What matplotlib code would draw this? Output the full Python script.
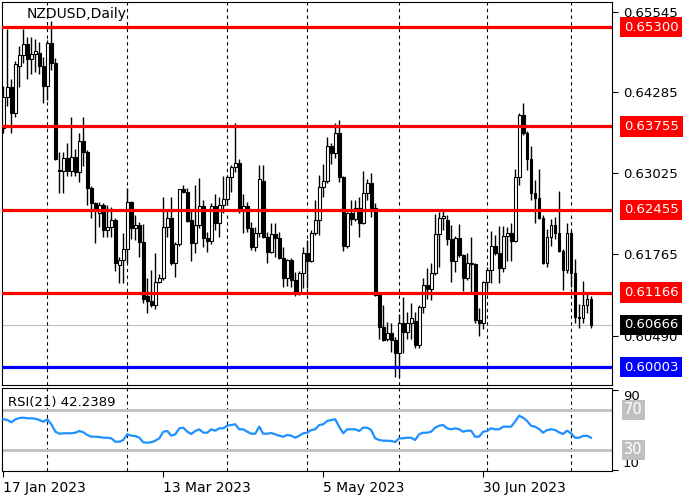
import matplotlib
matplotlib.use("Agg")
import matplotlib.pyplot as plt
from matplotlib.transforms import blended_transform_factory

# daily NZDUSD candles (bar 0 = 17 Jan 2023)
opens = [
    0.6373, 0.6421, 0.6437, 0.6396, 0.6470, 0.6487, 0.6504, 0.6481, 0.6488, 0.6490,
    0.6470, 0.6439, 0.6506, 0.6474, 0.6308, 0.6306, 0.6326, 0.6306, 0.6328, 0.6305,
    0.6353, 0.6336, 0.6280, 0.6256, 0.6240, 0.6253, 0.6214, 0.6219, 0.6230, 0.6160,
    0.6167, 0.6185, 0.6258, 0.6217, 0.6222, 0.6195, 0.6112, 0.6104, 0.6097, 0.6133,
    0.6140, 0.6219, 0.6233, 0.6163, 0.6192, 0.6278, 0.6274, 0.6230, 0.6194, 0.6222,
    0.6252, 0.6202, 0.6197, 0.6252, 0.6225, 0.6253, 0.6262, 0.6297, 0.6312, 0.6319,
    0.6244, 0.6252, 0.6217, 0.6188, 0.6210, 0.6290, 0.6203, 0.6180, 0.6208, 0.6202,
    0.6171, 0.6139, 0.6167, 0.6136, 0.6116, 0.6147, 0.6178, 0.6166, 0.6210, 0.6230,
    0.6281, 0.6291, 0.6345, 0.6334, 0.6365, 0.6297, 0.6189, 0.6241, 0.6231, 0.6248,
    0.6225, 0.6272, 0.6287, 0.6248, 0.6113, 0.6063, 0.6045, 0.6053, 0.6043, 0.6023,
    0.6069, 0.6055, 0.6069, 0.6072, 0.6035, 0.6094, 0.6128, 0.6122, 0.6147, 0.6208,
    0.6233, 0.6230, 0.6200, 0.6166, 0.6202, 0.6175, 0.6139, 0.6163, 0.6161, 0.6074,
    0.6069, 0.6133, 0.6152, 0.6189, 0.6178, 0.6155, 0.6205, 0.6210, 0.6197, 0.6297,
    0.6393, 0.6365, 0.6325, 0.6272, 0.6264, 0.6233, 0.6163, 0.6203, 0.6222, 0.6210,
    0.6182, 0.6152, 0.6210, 0.6147, 0.6079, 0.6077, 0.6097, 0.6107]
highs = [
    0.6439, 0.6527, 0.6449, 0.6477, 0.6501, 0.6527, 0.6515, 0.6515, 0.6512, 0.6507,
    0.6484, 0.6510, 0.6540, 0.6482, 0.6336, 0.6336, 0.6350, 0.6390, 0.6340, 0.6365,
    0.6390, 0.6339, 0.6283, 0.6258, 0.6258, 0.6256, 0.6253, 0.6250, 0.6233, 0.6172,
    0.6210, 0.6280, 0.6260, 0.6238, 0.6227, 0.6224, 0.6139, 0.6152, 0.6178, 0.6146,
    0.6266, 0.6245, 0.6266, 0.6195, 0.6270, 0.6285, 0.6279, 0.6245, 0.6284, 0.6295,
    0.6261, 0.6211, 0.6256, 0.6270, 0.6266, 0.6298, 0.6300, 0.6316, 0.6381, 0.6325,
    0.6270, 0.6258, 0.6227, 0.6219, 0.6316, 0.6316, 0.6211, 0.6225, 0.6225, 0.6211,
    0.6188, 0.6169, 0.6170, 0.6149, 0.6150, 0.6188, 0.6199, 0.6214, 0.6261, 0.6300,
    0.6317, 0.6359, 0.6350, 0.6381, 0.6386, 0.6299, 0.6242, 0.6261, 0.6261, 0.6266,
    0.6306, 0.6294, 0.6303, 0.6256, 0.6116, 0.6097, 0.6071, 0.6069, 0.6048, 0.6083,
    0.6110, 0.6087, 0.6100, 0.6087, 0.6097, 0.6139, 0.6155, 0.6163, 0.6239, 0.6242,
    0.6244, 0.6238, 0.6222, 0.6205, 0.6224, 0.6177, 0.6178, 0.6203, 0.6163, 0.6093,
    0.6135, 0.6157, 0.6213, 0.6206, 0.6220, 0.6220, 0.6219, 0.6225, 0.6309, 0.6396,
    0.6412, 0.6368, 0.6345, 0.6292, 0.6309, 0.6238, 0.6216, 0.6231, 0.6234, 0.6275,
    0.6184, 0.6225, 0.6212, 0.6169, 0.6099, 0.6135, 0.6114, 0.6111]
lows = [
    0.6365, 0.6407, 0.6365, 0.6390, 0.6437, 0.6474, 0.6449, 0.6457, 0.6460, 0.6457,
    0.6412, 0.6417, 0.6463, 0.6323, 0.6272, 0.6272, 0.6298, 0.6298, 0.6298, 0.6289,
    0.6314, 0.6253, 0.6233, 0.6194, 0.6219, 0.6203, 0.6203, 0.6203, 0.6150, 0.6132,
    0.6132, 0.6163, 0.6200, 0.6199, 0.6172, 0.6100, 0.6085, 0.6094, 0.6091, 0.6131,
    0.6136, 0.6203, 0.6160, 0.6141, 0.6189, 0.6272, 0.6226, 0.6166, 0.6178, 0.6217,
    0.6188, 0.6180, 0.6193, 0.6214, 0.6203, 0.6241, 0.6253, 0.6273, 0.6305, 0.6241,
    0.6210, 0.6211, 0.6183, 0.6182, 0.6203, 0.6201, 0.6163, 0.6178, 0.6172, 0.6169,
    0.6125, 0.6127, 0.6125, 0.6111, 0.6113, 0.6124, 0.6124, 0.6164, 0.6206, 0.6206,
    0.6266, 0.6287, 0.6317, 0.6326, 0.6289, 0.6182, 0.6186, 0.6222, 0.6228, 0.6203,
    0.6223, 0.6261, 0.6234, 0.6111, 0.6044, 0.6041, 0.6041, 0.6024, 0.5985, 0.5985,
    0.6023, 0.6044, 0.6044, 0.6030, 0.6030, 0.6085, 0.6107, 0.6105, 0.6144, 0.6157,
    0.6214, 0.6191, 0.6133, 0.6149, 0.6172, 0.6119, 0.6136, 0.6118, 0.6069, 0.6049,
    0.6060, 0.6122, 0.6132, 0.6175, 0.6132, 0.6149, 0.6166, 0.6166, 0.6195, 0.6284,
    0.6362, 0.6308, 0.6261, 0.6225, 0.6231, 0.6161, 0.6157, 0.6189, 0.6200, 0.6180,
    0.6121, 0.6147, 0.6125, 0.6069, 0.6062, 0.6069, 0.6085, 0.6062]
closes = [
    0.6421, 0.6437, 0.6396, 0.6473, 0.6487, 0.6504, 0.6481, 0.6488, 0.6493, 0.6470,
    0.6439, 0.6506, 0.6474, 0.6325, 0.6306, 0.6326, 0.6306, 0.6328, 0.6305, 0.6353,
    0.6336, 0.6280, 0.6256, 0.6245, 0.6253, 0.6214, 0.6219, 0.6230, 0.6163, 0.6167,
    0.6185, 0.6258, 0.6217, 0.6222, 0.6195, 0.6107, 0.6104, 0.6097, 0.6133, 0.6140,
    0.6219, 0.6233, 0.6163, 0.6192, 0.6278, 0.6274, 0.6228, 0.6194, 0.6222, 0.6252,
    0.6202, 0.6197, 0.6252, 0.6225, 0.6253, 0.6262, 0.6297, 0.6312, 0.6319, 0.6244,
    0.6252, 0.6217, 0.6188, 0.6210, 0.6294, 0.6203, 0.6180, 0.6208, 0.6202, 0.6171,
    0.6139, 0.6167, 0.6136, 0.6116, 0.6147, 0.6178, 0.6166, 0.6210, 0.6230, 0.6281,
    0.6291, 0.6345, 0.6334, 0.6365, 0.6297, 0.6189, 0.6241, 0.6231, 0.6248, 0.6225,
    0.6272, 0.6287, 0.6248, 0.6113, 0.6063, 0.6043, 0.6053, 0.6043, 0.6023, 0.6069,
    0.6055, 0.6069, 0.6077, 0.6035, 0.6094, 0.6128, 0.6122, 0.6147, 0.6208, 0.6233,
    0.6236, 0.6200, 0.6166, 0.6202, 0.6175, 0.6139, 0.6163, 0.6161, 0.6074, 0.6069,
    0.6133, 0.6152, 0.6189, 0.6178, 0.6155, 0.6205, 0.6210, 0.6197, 0.6297, 0.6393,
    0.6365, 0.6325, 0.6272, 0.6264, 0.6233, 0.6163, 0.6203, 0.6222, 0.6210, 0.6182,
    0.6152, 0.6210, 0.6147, 0.6079, 0.6077, 0.6097, 0.6107, 0.60666]

rsi = [
    60.7, 60.0, 57.7, 60.7, 62.0, 62.3, 61.7, 61.7, 61.3, 60.0,
    58.3, 60.7, 55.7, 48.3, 46.3, 46.7, 46.7, 46.7, 47.3, 49.0,
    47.7, 45.0, 43.3, 43.3, 43.0, 42.3, 42.3, 41.7, 38.3, 38.3,
    40.0, 45.7, 44.3, 44.0, 42.3, 37.7, 37.3, 37.7, 39.3, 41.7,
    48.3, 49.0, 44.3, 45.7, 51.7, 52.3, 48.3, 46.0, 49.0, 50.7,
    47.3, 47.3, 50.7, 49.3, 51.7, 51.7, 54.3, 55.0, 55.7, 50.7,
    50.7, 48.3, 46.3, 46.3, 53.3, 46.3, 46.3, 47.0, 45.7, 44.3,
    43.3, 45.0, 44.3, 42.3, 44.3, 46.7, 47.3, 50.0, 50.7, 55.0,
    55.7, 59.0, 60.0, 60.7, 53.3, 46.7, 50.7, 50.7, 50.7, 49.0,
    52.3, 52.3, 50.0, 41.7, 40.0, 39.3, 39.3, 39.0, 38.0, 41.7,
    41.7, 42.3, 42.3, 40.0, 45.7, 47.3, 47.3, 48.3, 52.3, 54.3,
    55.0, 51.7, 50.7, 51.7, 50.7, 48.3, 49.3, 49.3, 43.3, 43.3,
    48.3, 49.0, 51.7, 50.7, 50.7, 53.3, 53.3, 53.3, 58.3, 64.3,
    62.3, 59.0, 54.3, 53.3, 51.0, 47.3, 50.0, 50.7, 50.0, 47.7,
    46.0, 49.3, 46.7, 42.3, 42.3, 44.0, 44.3, 42.24]

price_ticks = [0.65545, 0.64285, 0.63025, 0.61765, 0.60490]
red_levels = [0.65300, 0.63755, 0.62455, 0.61166]
blue_level = 0.60003
last_price = 0.60666
date_pos = [0, 40, 80, 120]
date_labels = ["17 Jan 2023", "13 Mar 2023", "5 May 2023", "30 Jun 2023"]
grid_pos = [11, 31, 56, 76, 99, 121, 142]

fs = 9.5
fig = plt.figure(figsize=(7, 5), dpi=100)
ax = fig.add_axes([0.003, 0.23, 0.871, 0.766])
ax2 = fig.add_axes([0.003, 0.058, 0.871, 0.166])

x = list(range(len(closes)))
up_x = [i for i in x if closes[i] >= opens[i]]
dn_x = [i for i in x if closes[i] < opens[i]]

ax.vlines(x, lows, highs, color="black", lw=1, zorder=2)
for idx, fc in [(up_x, "white"), (dn_x, "black")]:
    bottoms = [min(opens[i], closes[i]) for i in idx]
    heights = [max(abs(closes[i] - opens[i]), 0.00005) for i in idx]
    ax.bar(idx, heights, bottom=bottoms, width=0.72, facecolor=fc,
           edgecolor="black", lw=0.8, zorder=2.5)

for lv in red_levels:
    ax.axhline(lv, color="#FF0000", lw=2.3, zorder=3)
ax.axhline(blue_level, color="#0000FF", lw=2.3, zorder=3)
ax.axhline(last_price, color="#C0C0C0", lw=0.8, zorder=1)
for g in grid_pos:
    ax.axvline(g, color="black", lw=0.8, ls=(0, (3, 3)), zorder=1)
    ax2.axvline(g, color="black", lw=0.8, ls=(0, (3, 3)), zorder=1)

ax.set_xlim(-0.33, 152.2)
ax.set_ylim(0.59727, 0.65694)
ax.set_xticks([])
ax.yaxis.tick_right()
ax.set_yticks(price_ticks)
ax.set_yticklabels(["%.5f" % t for t in price_ticks])
ax.tick_params(axis="y", direction="out", length=4, pad=4, labelsize=fs)
ax.text(0.04, 0.987, "NZDUSD,Daily", transform=ax.transAxes, fontsize=10,
        ha="left", va="top")

tr = blended_transform_factory(ax.transAxes, ax.transData)
box_x = 1.02
for lv in red_levels:
    ax.text(box_x, lv, "%.5f" % lv, transform=tr, color="white", fontsize=fs,
            ha="left", va="center",
            bbox=dict(boxstyle="square,pad=0.28", fc="#FF0000", ec="none"))
ax.text(box_x, last_price, "%.5f" % last_price, transform=tr, color="white",
        fontsize=fs, ha="left", va="center", zorder=5,
        bbox=dict(boxstyle="square,pad=0.28", fc="black", ec="none"))
ax.text(box_x, blue_level, "%.5f" % blue_level, transform=tr, color="white",
        fontsize=fs, ha="left", va="center",
        bbox=dict(boxstyle="square,pad=0.28", fc="#0000FF", ec="none"))

# RSI panel
ax2.plot(x, rsi, color="#1E90FF", lw=1.6, zorder=3)
ax2.axhline(70, color="#C0C0C0", lw=2, zorder=1)
ax2.axhline(30, color="#C0C0C0", lw=2, zorder=1)
ax2.set_xlim(-0.33, 152.2)
ax2.set_ylim(9, 92)
ax2.yaxis.tick_right()
ax2.set_yticks([90, 10])
ax2.set_yticklabels(["90", "10"])
for lab, va in zip(ax2.get_yticklabels(), ["top", "bottom"]):
    lab.set_va(va)
ax2.tick_params(axis="y", direction="out", length=4, pad=4, labelsize=fs)
tr2 = blended_transform_factory(ax2.transAxes, ax2.transData)
for lv in [70, 30]:
    ax2.text(box_x, lv, str(lv), transform=tr2, color="white", fontsize=fs + 1,
             ha="left", va="center",
             bbox=dict(boxstyle="square,pad=0.15", fc="#C0C0C0", ec="none"))
ax2.text(0.01, 0.9, "RSI(21) %.4f" % 42.2389, transform=ax2.transAxes,
         fontsize=fs, ha="left", va="top")
ax2.set_xticks(date_pos)
ax2.set_xticklabels(date_labels, ha="left", fontsize=10)
ax2.tick_params(axis="x", direction="out", length=4, pad=3)

fig.savefig("out.png", dpi=100)
